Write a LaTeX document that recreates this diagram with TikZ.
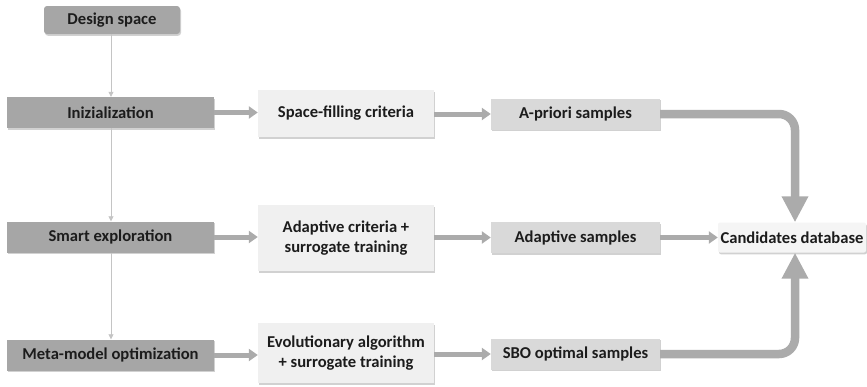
\documentclass[tikz,border=0pt]{standalone}
\usepackage{fontspec}
\setmainfont{Carlito}
\usetikzlibrary{arrows.meta,shadows,positioning}
\definecolor{darkbox}{HTML}{A6A6A6}
\definecolor{midbox}{HTML}{F0F0F0}
\definecolor{sampbox}{HTML}{D9D9D9}
\definecolor{candbox}{HTML}{F5F5F5}
\definecolor{arrowgray}{HTML}{ABABAB}
\definecolor{thinline}{HTML}{C4C4C4}
\definecolor{txt}{HTML}{1C1C1C}
\tikzset{
  base/.style={font=\fontsize{16.6}{20}\selectfont\bfseries, text=txt, align=center, inner sep=0pt,
    drop shadow={shadow xshift=1pt, shadow yshift=-1.8pt, fill=black, opacity=0.18}},
  darknode/.style={base, fill=darkbox, minimum width=207pt, minimum height=31pt},
  midnode/.style={base, fill=midbox, minimum width=176pt},
  sampnode/.style={base, fill=sampbox, minimum width=169pt, minimum height=31pt},
  candnode/.style={base, fill=candbox, minimum width=148pt, minimum height=30pt, rounded corners=2pt},
  thinarrow/.style={draw=thinline, line width=0.8pt, -{Triangle[width=5pt,length=5pt]}},
  flowarrow/.style={draw=arrowgray, line width=5pt, -{Triangle[width=12pt,length=9pt]}},
  bigarrow/.style={draw=arrowgray, line width=8.5pt, rounded corners=16pt, -{Triangle[width=25pt,length=26pt]}},
}
\begin{document}
\begin{tikzpicture}[x=1pt,y=-1pt]
\useasboundingbox (0,0) rectangle (867,386);
\node[base, fill=darkbox, minimum width=136pt, minimum height=28pt, rounded corners=3pt] (ds) at (112,20) {Design space};
\node[darknode] (ini) at (110.5,112.5) {Inizialization};
\node[darknode] (smart) at (110.5,237) {Smart exploration};
\node[darknode] (meta) at (110.5,355) {Meta-model optimization};
\node[midnode, minimum height=47pt] (sfc) at (346,113.5) {Space-filling criteria};
\node[midnode, minimum height=66pt] (acs) at (346,238) {Adaptive criteria +\\surrogate training};
\node[midnode, minimum height=60pt] (evo) at (346,353) {Evolutionary algorithm\\+ surrogate training};
\node[sampnode] (apr) at (575.5,114) {A-priori samples};
\node[sampnode] (ads) at (575.5,237.5) {Adaptive samples};
\node[sampnode] (sbo) at (575.5,354) {SBO optimal samples};
\node[candnode] (cdb) at (792,237.5) {Candidates database};
\coordinate (cx) at (795,0);
% thin vertical connectors
\draw[thinarrow] (ds.south -| 111,0) -- (ini.north -| 111,0);
\draw[thinarrow] (ini.south -| 111,0) -- (smart.north -| 111,0);
\draw[thinarrow] (smart.south -| 111,0) -- (meta.north -| 111,0);
% flow arrows
\draw[flowarrow] (ini.east) -- (sfc.west |- ini.east);
\draw[flowarrow] (sfc.east |- apr.west) -- (apr.west);
\draw[flowarrow] (smart.east) -- (acs.west |- smart.east);
\draw[flowarrow] (acs.east |- ads.west) -- (ads.west);
\draw[flowarrow] (meta.east) -- (evo.west |- meta.east);
\draw[flowarrow] (evo.east |- sbo.west) -- (sbo.west);
\draw[flowarrow] (ads.east) -- (cdb.west);
% big curved arrows
\draw[bigarrow] (apr.east) -| (cdb.north -| cx);
\draw[bigarrow] (sbo.east) -| (cdb.south -| cx);
\end{tikzpicture}
\end{document}
